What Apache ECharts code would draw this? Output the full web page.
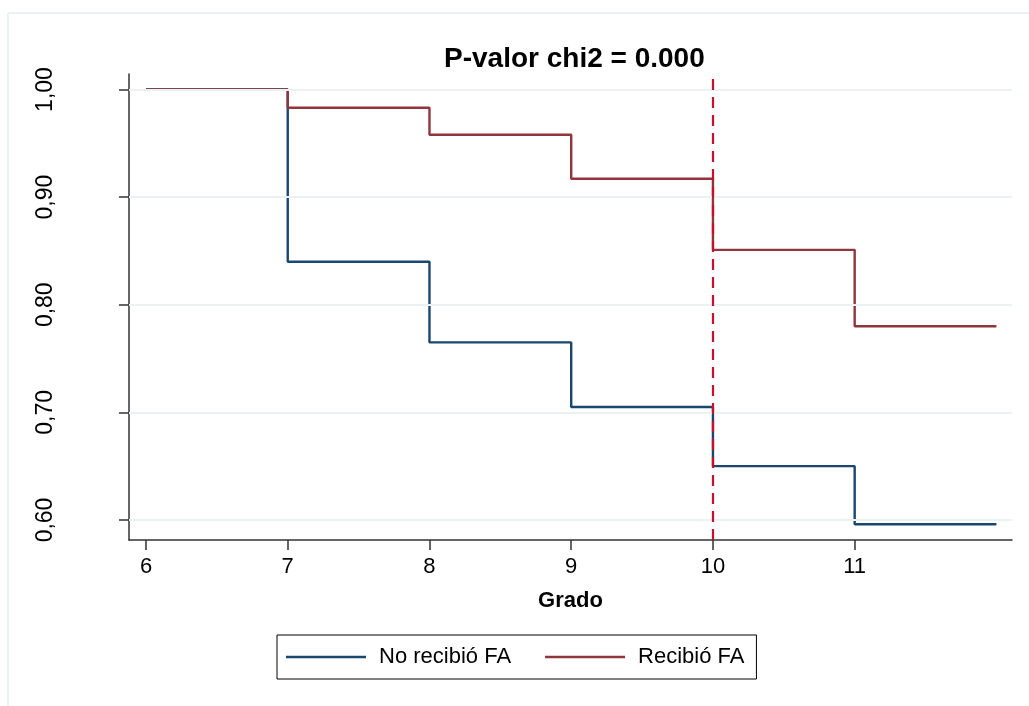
<!DOCTYPE html>
<html>
<head>
<meta charset="utf-8">
<script src="https://cdn.jsdelivr.net/npm/echarts@6/dist/echarts.min.js"></script>
<style>
html,body{margin:0;padding:0;background:#fff;}
#chart{width:1029px;height:706px;}
</style>
</head>
<body>
<div id="chart"></div>
<script>
// Data
var grades = [6, 7, 8, 9, 10, 11, 12];
var noRecibio = [1.000, 0.840, 0.765, 0.705, 0.650, 0.596, 0.596];
var recibio   = [1.000, 0.983, 0.958, 0.917, 0.851, 0.780, 0.780];
var xTicks = [6, 7, 8, 9, 10, 11];
var yTicks = [0.6, 0.7, 0.8, 0.9, 1.0];
var yTickLabels = ['0,60', '0,70', '0,80', '0,90', '1,00'];
var cutGrade = 10;
var seriesNames = ['No recibió FA', 'Recibió FA'];
var titleText = 'P-valor chi2 = 0.000';
var xName = 'Grado';

function pairs(xs, ys) { return xs.map(function (x, i) { return [x, ys[i]]; }); }

var font = '"Liberation Sans", Arial, sans-serif';
var chart = echarts.init(document.getElementById('chart'), null, { renderer: 'canvas' });
chart.setOption({
  backgroundColor: '#ffffff',
  animation: false,
  textStyle: { fontFamily: font },
  title: {
    text: titleText,
    left: 439, top: 40,
    textStyle: { fontFamily: font, fontSize: 28, fontWeight: 'bold', color: '#000' }
  },
  grid: { left: 129, right: 17, top: 74, bottom: 166 },
  legend: {
    left: 277, top: 635,
    width: 475,
    orient: 'horizontal',
    borderColor: '#000', borderWidth: 1,
    padding: [11, 12, 11, 9],
    itemWidth: 80, itemHeight: 20, itemGap: 34,
    icon: 'path://M0,9 L80,9 L80,11.4 L0,11.4 Z',
    data: seriesNames,
    textStyle: { fontFamily: font, fontSize: 22, color: '#000', padding: [0, 0, 0, 8] }
  },
  xAxis: {
    type: 'value',
    min: 5.88, max: 12.11,
    name: xName,
    nameLocation: 'middle',
    nameGap: 50,
    nameTextStyle: { fontFamily: font, fontSize: 22, fontWeight: 'bold', color: '#000' },
    axisLine: { show: true, lineStyle: { color: '#333', width: 1.5 } },
    axisTick: { show: true, customValues: xTicks, length: 10, lineStyle: { color: '#333', width: 1.5 } },
    axisLabel: { customValues: xTicks, fontSize: 22, color: '#000', margin: 16, fontFamily: font },
    splitLine: { show: false }
  },
  yAxis: {
    type: 'value',
    min: 0.5814, max: 1.0144,
    axisLine: { show: true, lineStyle: { color: '#333', width: 1.5 } },
    axisTick: { show: true, customValues: yTicks, length: 10, lineStyle: { color: '#333', width: 1.5 } },
    axisLabel: {
      customValues: yTicks, rotate: 90, fontSize: 23, color: '#000', margin: 72, fontFamily: font,
      formatter: function (v) {
        for (var i = 0; i < yTicks.length; i++) { if (Math.abs(yTicks[i] - v) < 1e-6) return yTickLabels[i]; }
        return '';
      }
    },
    splitLine: { show: false }
  },
  series: [
    {
      name: '_grid', type: 'line', data: [], silent: true, z: 1,
      markLine: {
        silent: true, symbol: 'none', label: { show: false },
        lineStyle: { color: '#eaf2f3', width: 2, type: 'solid' },
        data: yTicks.map(function (v) { return { yAxis: v }; })
      }
    },
    {
      name: '_cut', type: 'line', data: [], silent: true, z: 2,
      markLine: {
        silent: true, symbol: 'none', label: { show: false },
        lineStyle: { color: '#c8102e', width: 2.2, type: [11, 7] },
        data: [{ xAxis: cutGrade }]
      }
    },
    {
      name: seriesNames[0], type: 'line', step: 'end', showSymbol: false, symbol: 'none', z: 3,
      color: '#1a476f',
      lineStyle: { color: '#1a476f', width: 2.4 },
      data: pairs(grades, noRecibio)
    },
    {
      name: seriesNames[1], type: 'line', step: 'end', showSymbol: false, symbol: 'none', z: 4,
      color: '#90353b',
      lineStyle: { color: '#90353b', width: 2.4 },
      data: pairs(grades, recibio)
    }
  ],
  graphic: [
    { type: 'line', shape: { x1: 8, y1: 13, x2: 1029, y2: 13 }, style: { stroke: '#eaf2f3', lineWidth: 2 }, silent: true },
    { type: 'line', shape: { x1: 8, y1: 13, x2: 8, y2: 706 }, style: { stroke: '#eaf2f3', lineWidth: 2 }, silent: true }
  ]
});
</script>
</body>
</html>
